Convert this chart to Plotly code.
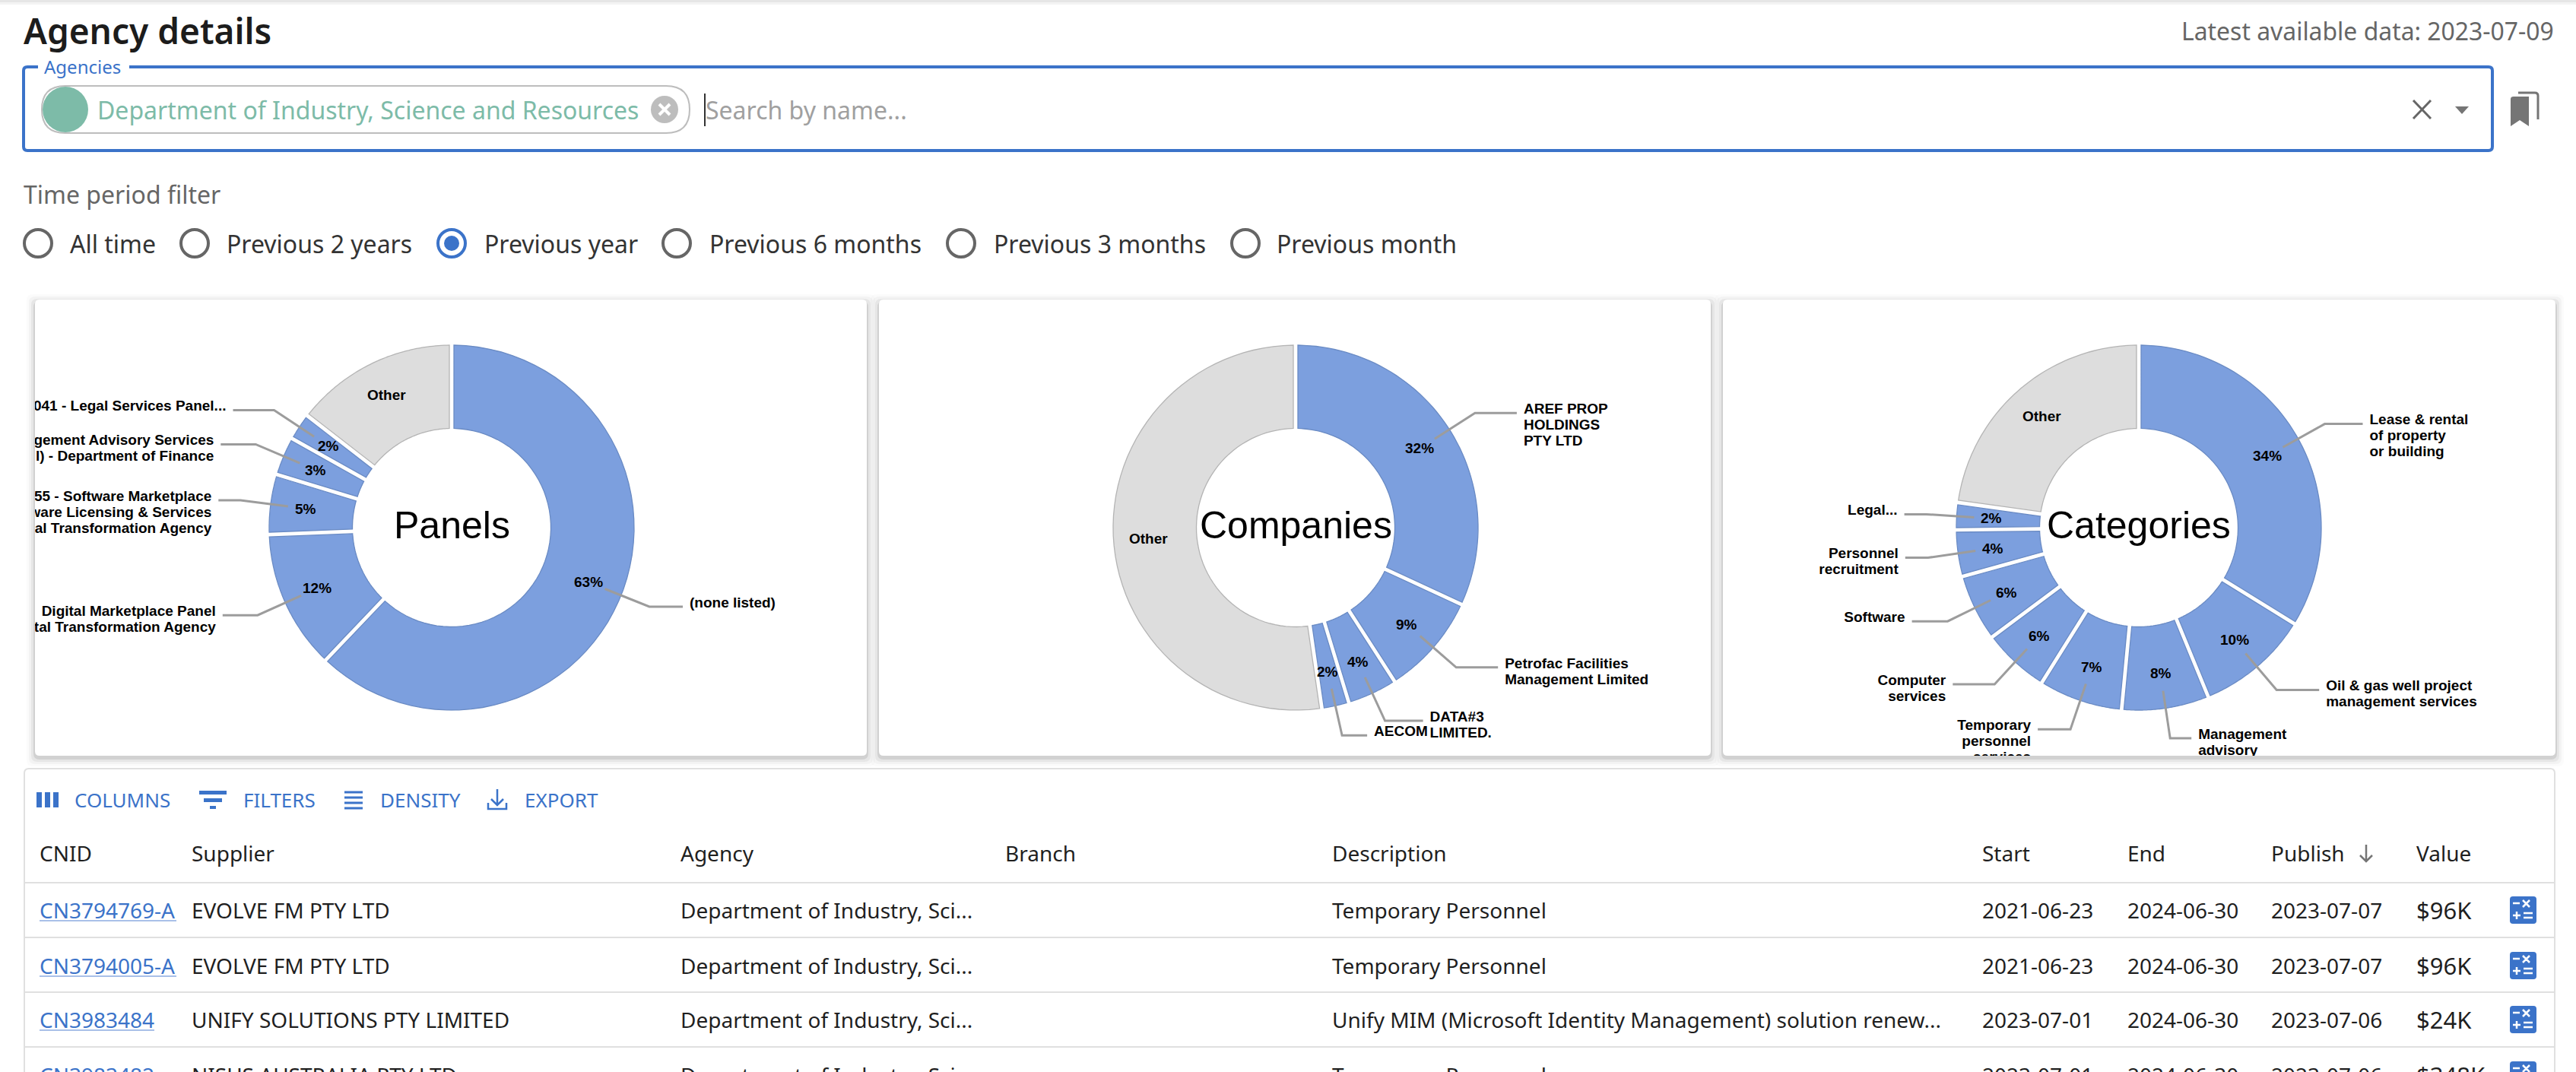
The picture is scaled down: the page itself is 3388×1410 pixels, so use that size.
import numpy as np
import plotly.graph_objects as go

W, H = 3388, 1410

# chart data, clockwise from 12 o'clock, last slice is always Other
panel_labels = [["(none listed)"],
                ["Digital Marketplace Panel", "Digital Transformation Agency"],
                ["55 - Software Marketplace", "Software Licensing & Services", "Digital Transformation Agency"],
                ["Management Advisory Services", "l) - Department of Finance"],
                ["041 - Legal Services Panel..."],
                ["Other"]]
panel_values = [62.1, 12.3, 5.3, 3.4, 2.4, 14.5]
panel_percents = [63, 12, 5, 3, 2]

company_labels = [["AREF PROP", "HOLDINGS", "PTY LTD"],
                  ["Petrofac Facilities", "Management Limited"],
                  ["DATA#3", "LIMITED."],
                  ["AECOM"],
                  ["Other"]]
company_values = [31.9, 9.0, 4.4, 2.4, 52.3]
company_percents = [32, 9, 4, 2]

category_labels = [["Lease & rental", "of property", "or building"],
                   ["Oil & gas well project", "management services"],
                   ["Management", "advisory"],
                   ["Temporary", "personnel", "services"],
                   ["Computer", "services"],
                   ["Software"],
                   ["Personnel", "recruitment"],
                   ["Legal..."],
                   ["Other"]]
category_values = [33.8, 10.0, 7.7, 7.4, 5.9, 5.9, 4.1, 2.4, 22.8]
category_percents = [34, 10, 8, 7, 6, 6, 4, 2]

radio_options = ["All time", "Previous 2 years", "Previous year",
                 "Previous 6 months", "Previous 3 months", "Previous month"]

table_columns = ["CNID", "Supplier", "Agency", "Branch", "Description", "Start", "End", "Publish", "Value"]
table_rows = [
    ["CN3794769-A", "EVOLVE FM PTY LTD", "Department of Industry, Sci...", "", "Temporary Personnel",
     "2021-06-23", "2024-06-30", "2023-07-07", "$96K"],
    ["CN3794005-A", "EVOLVE FM PTY LTD", "Department of Industry, Sci...", "", "Temporary Personnel",
     "2021-06-23", "2024-06-30", "2023-07-07", "$96K"],
    ["CN3983484", "UNIFY SOLUTIONS PTY LIMITED", "Department of Industry, Sci...", "",
     "Unify MIM (Microsoft Identity Management) solution renew...",
     "2023-07-01", "2024-06-30", "2023-07-06", "$24K"],
    ["CN3983482", "NISUS AUSTRALIA PTY LTD", "Department of Industry, Sci...", "", "Temporary Personnel",
     "2023-07-01", "2024-06-30", "2023-07-06", "$348K"],
]

# layout, in page pixels
UI_FONT = "Noto Sans"
CHART_FONT = "Liberation Sans"
BLUE = "#3B73C9"
SLICE = "#7C9FDE"
SLICE_EDGE = "#6A8BC4"
OTHER = "#DDDDDD"
OTHER_EDGE = "#B4B4B4"
LEADER = "#9C9C9C"
R_OUT, R_IN = 240, 130.5
CY = 694

charts = [
    dict(title="Panels", labels=panel_labels, values=panel_values, percents=panel_percents, cx=594,
         card=(46, 1140), runs=[44, 46, 29, 46, 54]),
    dict(title="Companies", labels=company_labels, values=company_values, percents=company_percents, cx=1704,
         card=(1156, 2250), runs=[55, 55, 50, 33]),
    dict(title="Categories", labels=category_labels, values=category_values, percents=category_percents, cx=2813,
         card=(2266, 3361), runs=[50, 56, 28, 43, 55, 47, 30, 29]),
]
CARD_Y = (394, 994)
col_x = [52, 252, 895, 1322, 1752, 2607, 2798, 2987, 3178]
radio_x = [50, 256, 594, 890, 1264, 1638]
radio_label_x = [92, 298, 637, 933, 1307, 1679]
row_y = [1197, 1270, 1341, 1414]
row_sep = [1161, 1233, 1305, 1377]

fig = go.Figure()


def rrect(x0, y0, x1, y1, r):
    return (f"M{x0+r},{y0} H{x1-r} Q{x1},{y0} {x1},{y0+r} V{y1-r} Q{x1},{y1} {x1-r},{y1} "
            f"H{x0+r} Q{x0},{y1} {x0},{y1-r} V{y0+r} Q{x0},{y0} {x0+r},{y0} Z")


def shape(path, fill=None, line=None, width=0, layer="below"):
    fig.add_shape(type="path", path=path, xref="x", yref="y", layer=layer,
                  fillcolor=fill or "rgba(0,0,0,0)",
                  line=dict(color=line or "rgba(0,0,0,0)", width=width))


def text(x, y, s, size=28, color="#1f1f1f", anchor="left", family=UI_FONT, weight=None):
    # annotations with an anchor off the axis get hidden, so the cut-off last row hangs from its top
    vanchor = "middle"
    if y > H - 20:
        y, vanchor = y - size * 0.68, "top"
    fig.add_annotation(x=x, y=y, xref="x", yref="y", text=s, showarrow=False, xanchor=anchor,
                       yanchor=vanchor, borderpad=0, borderwidth=0,
                       font=dict(family=family, size=size, color=color, weight=weight))


def polar(cx, r, frac):
    a = 2 * np.pi * frac
    return cx + r * np.sin(a), CY - r * np.cos(a)


# top strip
shape(f"M0,0 H{W} V3 H0 Z", fill="#E6E6E6")
shape(f"M0,3 H{W} V6 H0 Z", fill="#F3F3F3")

# header
text(31, 40, "Agency details", size=46, color="#1c1c1c", weight=600)
text(3359, 40, "Latest available data: 2023-07-09", size=31.9, color="#666666", anchor="right")

# search box
shape(rrect(31, 88, 3278, 198, 5), line=BLUE, width=4)
shape("M50,84 H170 V92 H50 Z", fill="white")
text(58, 87, "Agencies", size=24, color=BLUE)
shape(rrect(55, 113, 907, 175, 31), line="#BDBDBD", width=2)
fig.add_shape(type="circle", x0=56, x1=116, y0=114, y1=174, xref="x", yref="y", layer="below",
              fillcolor="#7DBBA8", line=dict(width=0))
text(128, 144, "Department of Industry, Science and Resources", size=32, color="#7DBBA8")
fig.add_shape(type="circle", x0=856, x1=892, y0=126, y1=162, xref="x", yref="y", layer="below",
              fillcolor="#BDBDBD", line=dict(width=0))
shape("M867,137 L881,151 M881,137 L867,151", line="white", width=4)
shape("M927,123 V166", line="#333333", width=2)
text(928, 144, "Search by name...", size=32, color="#A0A0A0")
shape("M3174,132 L3197,156 M3197,132 L3174,156", line="#666666", width=3)
shape("M3229,140 H3247 L3238,150 Z", fill="#757575")
shape("M3302,130 Q3302,127 3306,127 H3326 V166 L3314,158 L3302,166 Z", fill="#757575")
shape("M3312,122 H3334 Q3338,122 3338,126 V157", line="#757575", width=3)

# time filter
text(31, 255, "Time period filter", size=32, color="#666666")
for i, (opt, rx, lx) in enumerate(zip(radio_options, radio_x, radio_label_x)):
    col = BLUE if opt == "Previous year" else "#666666"
    fig.add_shape(type="circle", x0=rx - 18, x1=rx + 18, y0=302, y1=338, xref="x", yref="y", layer="below",
                  line=dict(color=col, width=4), fillcolor="white")
    if opt == "Previous year":
        fig.add_shape(type="circle", x0=rx - 10, x1=rx + 10, y0=310, y1=330, xref="x", yref="y", layer="below",
                      line=dict(width=0), fillcolor=BLUE)
    text(lx, 320, opt, size=32, color="#333333")

# cards
for i, ch in enumerate(charts):
    x0, x1 = ch["card"]
    for grow, alpha in [(11, 0.016), (8, 0.03), (5, 0.05), (2, 0.09)]:
        shape(rrect(x0 - grow, CARD_Y[0] - grow + 4, x1 + grow, CARD_Y[1] + grow + 3, 8), fill=f"rgba(0,0,0,{alpha})")
    shape(rrect(x0, CARD_Y[0], x1, CARD_Y[1], 6), fill="white")

# donuts
R_PATH = R_OUT + 3
for i, ch in enumerate(charts):
    cx = ch["cx"]
    n = len(ch["values"])
    colors = [SLICE] * (n - 1) + [OTHER]
    fig.add_trace(go.Pie(
        values=ch["values"], labels=[" ".join(l) for l in ch["labels"]], sort=False, direction="clockwise",
        rotation=0, hole=(R_IN - 3) / R_PATH, textinfo="none", hoverinfo="skip", showlegend=False,
        marker=dict(colors=colors, line=dict(color="white", width=6)),
        domain=dict(x=[(cx - R_PATH) / W, (cx + R_PATH) / W],
                    y=[1 - (CY + R_PATH) / H, 1 - (CY - R_PATH) / H])))
    text(cx, CY - 3, ch["title"], size=50, color="black", anchor="center", family=CHART_FONT)

    # per-card subplot, so the label text is cut at the card edge
    ax = i + 2
    total = sum(ch["values"])
    cum = 0
    for j, (lab, val) in enumerate(zip(ch["labels"], ch["values"])):
        start, end = cum / total, (cum + val) / total
        mid = (start + end) / 2
        cum += val

        # slice outline, inset from the white gap
        g0 = 3 / (2 * np.pi * R_OUT)
        g1 = 3 / (2 * np.pi * R_IN)
        fr_o = np.linspace(start + g0, end - g0, 60)
        fr_i = np.linspace(end - g1, start + g1, 60)
        pts = [polar(cx, R_OUT, f) for f in fr_o] + [polar(cx, R_IN, f) for f in fr_i]
        path = "M" + " L".join(f"{px:.1f},{py:.1f}" for px, py in pts) + " Z"
        shape(path, line=OTHER_EDGE if j == n - 1 else SLICE_EDGE, width=1.3, layer="above")

        tx, ty = polar(cx, 194, mid)
        if j == n - 1:
            text(tx, ty, "Other", size=19, color="black", anchor="center", family=CHART_FONT, weight="bold")
            continue
        text(tx, ty, f"{ch['percents'][j]}%", size=19, color="black", anchor="center",
             family=CHART_FONT, weight="bold")

        ax0, ay0 = polar(cx, 217, mid)
        ax1, ay1 = polar(cx, 280, mid)
        side = 1 if np.sin(2 * np.pi * mid) > 0 else -1
        ex = ax1 + side * ch["runs"][j]
        shape(f"M{ax0:.1f},{ay0:.1f} L{ax1:.1f},{ay1:.1f} H{ex:.1f}", line=LEADER, width=3, layer="above")
        for k, part in enumerate(lab):
            fig.add_trace(go.Scatter(
                x=[ex + side * 9], y=[ay1 - 4 + 21 * k], text=[part], mode="text", hoverinfo="skip", showlegend=False,
                textposition="middle right" if side > 0 else "middle left",
                textfont=dict(family=CHART_FONT, size=19, color="black", weight="bold"),
                xaxis=f"x{ax}", yaxis=f"y{ax}", cliponaxis=True))

# table
shape(f"M32,{H+10} V1017 Q32,1011 38,1011 H3354 Q3360,1011 3360,1017 V{H+10}", line="#E0E0E0", width=2)
for y in row_sep:
    shape(f"M32,{y} H3360", line="#E0E0E0", width=2)

# toolbar
shape("M48,1042 H55 V1062 H48 Z M59,1042 H66 V1062 H59 Z M70,1042 H77 V1062 H70 Z", fill=BLUE)
shape("M262,1040 H298 V1045 H262 Z M268,1050 H292 V1055 H268 Z M276,1060 H284 V1064 H276 Z", fill=BLUE)
shape("M453,1042 H477 M453,1049 H477 M453,1056 H477 M453,1063 H477", line=BLUE, width=3)
shape("M654,1038 V1058 M646,1051 L654,1059 L662,1051 M642,1056 V1064 H666 V1056", line=BLUE, width=2.5)
for lab, x in [("COLUMNS", 98), ("FILTERS", 320), ("DENSITY", 500), ("EXPORT", 690)]:
    text(x, 1052, lab, size=26, color=BLUE)

# header and rows
for lab, x in zip(table_columns, col_x):
    text(x, 1122, lab, size=28, color="#1f1f1f")
shape("M3112,1111 V1133 M3104,1125 L3112,1133 L3120,1125", line="#757575", width=2.5)
for row, y in zip(table_rows, row_y):
    for j, (val, x) in enumerate(zip(row, col_x)):
        if not val:
            continue
        if j == 0:
            text(x, y, val, size=28, color=BLUE)
        elif j == 8:
            text(x, y, val, size=31, color="#1f1f1f")
        else:
            text(x, y, val, size=28, color="#1f1f1f")
    if row[0].endswith("-A"):
        shape(f"M52,{y+14} H232", line="#A9C0E8", width=2)
    else:
        shape(f"M52,{y+14} H203", line="#A9C0E8", width=2)
    top = y - 18
    shape(rrect(3301, top, 3336, top + 36, 4), fill=BLUE)
    shape(f"M3305,{top+9} H3314 M3318,{top+5} L3327,{top+14} M3327,{top+5} L3318,{top+14} "
          f"M3305,{top+25} H3315 M3310,{top+20} V{top+30} M3319,{top+22} H3331 M3319,{top+28} H3331",
          line="white", width=2.5)

layout_axes = dict(
    xaxis=dict(range=[0, W], domain=[0, 1], visible=False, fixedrange=True),
    yaxis=dict(range=[H, 0], domain=[0, 1], visible=False, fixedrange=True),
)
for i, ch in enumerate(charts):
    ax = i + 2
    x0, x1 = ch["card"]
    layout_axes[f"xaxis{ax}"] = dict(range=[x0, x1], domain=[x0 / W, x1 / W], visible=False,
                                     fixedrange=True, anchor=f"y{ax}")
    layout_axes[f"yaxis{ax}"] = dict(range=[CARD_Y[1], CARD_Y[0]],
                                     domain=[1 - CARD_Y[1] / H, 1 - CARD_Y[0] / H], visible=False,
                                     fixedrange=True, anchor=f"x{ax}")

fig.update_layout(width=W, height=H, margin=dict(l=0, r=0, t=0, b=0), paper_bgcolor="white",
                  plot_bgcolor="rgba(0,0,0,0)", showlegend=False, **layout_axes)

# default body margin would push the whole page 8px in
fig.write_html("out.html", config=dict(displayModeBar=False),
               post_script="document.body.style.margin='0';document.body.style.overflow='hidden';")
